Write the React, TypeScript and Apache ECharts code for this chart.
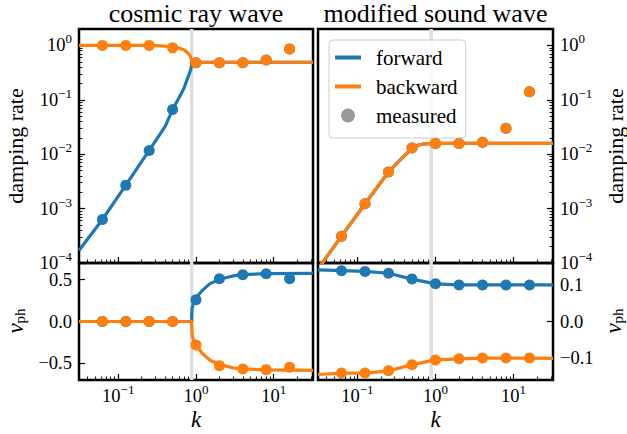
import React, { useEffect, useRef } from 'react';
import * as echarts from 'echarts';

const FONT = "'Liberation Serif', 'DejaVu Serif', serif";
const BLUE = '#1f77b4';
const ORANGE = '#ff7f0e';
const GREY = '#dedede';

// ---- axes ----
const K_MIN = 1 / 32;
const K_MAX = 32;
const K_CRIT = 0.88;
const X_TICKS = [0.1, 1, 10];
const RATE_MIN = 1e-4;
const RATE_MAX = 2;
const RATE_TICKS = [1e-4, 1e-3, 1e-2, 1e-1, 1];
const VPH_CR_MIN = -0.7;
const VPH_CR_MAX = 0.7;
const VPH_CR_TICKS = [-0.5, 0, 0.5];
const VPH_MS_MIN = -0.16;
const VPH_MS_MAX = 0.16;
const VPH_MS_TICKS = [-0.1, 0, 0.1];

// measured wavenumbers
const K_MEAS = [1 / 16, 1 / 8, 1 / 4, 1 / 2, 1, 2, 4, 8, 16];

// ---- cosmic ray wave: damping rate ----
const CR_RATE_FWD_K = [0.03125, 0.0625, 0.125, 0.25, 0.4, 0.5, 0.6, 0.7, 0.8, 0.85, 0.875, 0.88, 1, 2, 32];
const CR_RATE_FWD = [1.7e-4, 6.3e-4, 2.7e-3, 0.0117, 0.032, 0.066, 0.107, 0.163, 0.275, 0.35, 0.42, 0.49, 0.49, 0.49, 0.49];
const CR_RATE_BWD_K = [0.03125, 0.25, 0.4, 0.5, 0.6, 0.7, 0.8, 0.85, 0.875, 0.88, 1, 32];
const CR_RATE_BWD = [1.0, 1.0, 0.97, 0.93, 0.89, 0.83, 0.71, 0.62, 0.55, 0.49, 0.49, 0.49];
const CR_RATE_FWD_MEAS = [6.3e-4, 2.7e-3, 0.0117, 0.066, 0.48, 0.48, 0.48, 0.54, 0.86];
const CR_RATE_BWD_MEAS = [1.0, 1.0, 1.0, 0.9, 0.48, 0.48, 0.48, 0.54, 0.86];

// ---- cosmic ray wave: phase velocity ----
const CR_VPH_K = [0.03125, 0.88, 0.882, 0.89, 0.92, 0.96, 1, 1.2, 1.5, 2, 3, 4, 8, 32];
const CR_VPH_FWD = [0, 0, 0.08, 0.15, 0.21, 0.25, 0.28, 0.37, 0.45, 0.505, 0.545, 0.56, 0.572, 0.577];
const CR_VPH_BWD = [0, 0, -0.08, -0.15, -0.215, -0.255, -0.285, -0.38, -0.46, -0.515, -0.555, -0.568, -0.578, -0.585];
const CR_VPH_FWD_MEAS = [0, 0, 0, 0, 0.26, 0.512, 0.56, 0.572, 0.512];
const CR_VPH_BWD_MEAS = [0, 0, 0, 0, -0.28, -0.528, -0.568, -0.576, -0.548];

// ---- modified sound wave: damping rate ----
const MS_RATE_K = [0.03125, 0.0625, 0.125, 0.25, 0.35, 0.5, 0.6, 0.7, 0.85, 1, 32];
const MS_RATE_FWD = [7.8e-5, 3.1e-4, 1.23e-3, 4.7e-3, 7.8e-3, 0.0128, 0.0147, 0.0154, 0.0157, 0.0158, 0.0158];
const MS_RATE_BWD = [7.8e-5, 3.1e-4, 1.23e-3, 4.7e-3, 7.8e-3, 0.0128, 0.0147, 0.0154, 0.0157, 0.0158, 0.0158];
const MS_RATE_FWD_MEAS = [3.1e-4, 1.23e-3, 4.7e-3, 0.013, 0.0157, 0.0157, 0.0165, 0.030, 0.14];
const MS_RATE_BWD_MEAS = [3.1e-4, 1.23e-3, 4.7e-3, 0.013, 0.0157, 0.0157, 0.0165, 0.030, 0.14];

// ---- modified sound wave: phase velocity ----
const MS_VPH_K = [0.03125, 0.0625, 0.125, 0.25, 0.5, 1, 2, 4, 8, 16, 32];
const MS_VPH_FWD = [0.141, 0.139, 0.137, 0.132, 0.116, 0.103, 0.1, 0.1, 0.1, 0.1, 0.1];
const MS_VPH_BWD = [-0.145, -0.141, -0.141, -0.135, -0.118, -0.105, -0.102, -0.1, -0.1, -0.1, -0.101];
const MS_VPH_FWD_MEAS = [0.139, 0.137, 0.132, 0.116, 0.103, 0.1, 0.1, 0.1, 0.1];
const MS_VPH_BWD_MEAS = [-0.141, -0.141, -0.135, -0.118, -0.105, -0.102, -0.1, -0.1, -0.1];

const lg = (v: number) => Math.log10(v);

function minorLog(lo: number, hi: number): number[] {
  const out: number[] = [];
  for (let e = Math.floor(lg(lo)) - 1; e <= Math.ceil(lg(hi)); e++) {
    for (let m = 2; m <= 9; m++) {
      const v = m * Math.pow(10, e);
      if (v > lo * 1.0001 && v < hi * 0.9999) out.push(lg(v));
    }
  }
  return out;
}

const supLabel = (v: number) => {
  const n = Math.round(v);
  return `10{sup|${n < 0 ? '\u2212' : ''}${Math.abs(n)}}`;
};
const linLabel = (v: number) => (v < -1e-9 ? '\u2212' : '') + Math.abs(v).toFixed(1);

const RICH = {
  sup: { fontSize: 13, fontFamily: FONT, color: '#000', padding: [0, 0, 13, 0], lineHeight: 15 },
};

const GRIDS = [
  { left: 79, top: 29, width: 234, height: 234 },
  { left: 79, top: 263, width: 234, height: 117 },
  { left: 318, top: 29, width: 235, height: 234 },
  { left: 318, top: 263, width: 235, height: 117 },
];

const LINE_ICON = 'path://M0,0L26,0L26,4L0,4Z';

export default function App() {
  const ref = useRef<HTMLDivElement>(null);

  useEffect(() => {
    if (!ref.current) return;
    const chart = echarts.init(ref.current, undefined, { renderer: 'svg' });

    const panels = [
      {
        logY: true, side: 'left', showX: false,
        yMin: lg(RATE_MIN), yMax: lg(RATE_MAX),
        yMajor: RATE_TICKS.map(lg), yMinor: minorLog(RATE_MIN, RATE_MAX), yFmt: supLabel,
        fwdK: CR_RATE_FWD_K, fwd: CR_RATE_FWD, bwdK: CR_RATE_BWD_K, bwd: CR_RATE_BWD,
        fwdM: CR_RATE_FWD_MEAS, bwdM: CR_RATE_BWD_MEAS,
      },
      {
        logY: false, side: 'left', showX: true,
        yMin: VPH_CR_MIN, yMax: VPH_CR_MAX,
        yMajor: VPH_CR_TICKS, yMinor: [] as number[], yFmt: linLabel,
        fwdK: CR_VPH_K, fwd: CR_VPH_FWD, bwdK: CR_VPH_K, bwd: CR_VPH_BWD,
        fwdM: CR_VPH_FWD_MEAS, bwdM: CR_VPH_BWD_MEAS,
      },
      {
        logY: true, side: 'right', showX: false,
        yMin: lg(RATE_MIN), yMax: lg(RATE_MAX),
        yMajor: RATE_TICKS.map(lg), yMinor: minorLog(RATE_MIN, RATE_MAX), yFmt: supLabel,
        fwdK: MS_RATE_K, fwd: MS_RATE_FWD, bwdK: MS_RATE_K, bwd: MS_RATE_BWD,
        fwdM: MS_RATE_FWD_MEAS, bwdM: MS_RATE_BWD_MEAS,
      },
      {
        logY: false, side: 'right', showX: true,
        yMin: VPH_MS_MIN, yMax: VPH_MS_MAX,
        yMajor: VPH_MS_TICKS, yMinor: [] as number[], yFmt: linLabel,
        fwdK: MS_VPH_K, fwd: MS_VPH_FWD, bwdK: MS_VPH_K, bwd: MS_VPH_BWD,
        fwdM: MS_VPH_FWD_MEAS, bwdM: MS_VPH_BWD_MEAS,
      },
    ];

    const xMinor = minorLog(K_MIN, K_MAX);
    const xAxes: any[] = [];
    const yAxes: any[] = [];
    const series: any[] = [];

    panels.forEach((p, g) => {
      xAxes.push({
        type: 'value', gridIndex: g, min: lg(K_MIN), max: lg(K_MAX), position: 'bottom',
        axisLine: { show: false, onZero: false }, splitLine: { show: false },
        axisTick: { show: true, inside: true, length: 6, lineStyle: { color: '#000', width: 1.2 }, customValues: X_TICKS.map(lg) },
        axisLabel: {
          show: p.showX, customValues: X_TICKS.map(lg), formatter: supLabel, margin: 8,
          color: '#000', fontSize: 18.5, fontFamily: FONT, rich: RICH, lineHeight: 15,
        },
      });
      xAxes.push({
        type: 'value', gridIndex: g, min: lg(K_MIN), max: lg(K_MAX), position: 'bottom',
        axisLine: { show: false, onZero: false }, splitLine: { show: false },
        axisTick: { show: true, inside: true, length: 3.5, lineStyle: { color: '#000', width: 0.9 }, customValues: xMinor },
        axisLabel: { show: false },
      });
      yAxes.push({
        type: 'value', gridIndex: g, min: p.yMin, max: p.yMax, position: p.side,
        axisLine: { show: false, onZero: false }, splitLine: { show: false },
        axisTick: { show: true, inside: true, length: 6, lineStyle: { color: '#000', width: 1.2 }, customValues: p.yMajor },
        axisLabel: {
          customValues: p.yMajor, formatter: p.yFmt, margin: 7,
          color: '#000', fontSize: 18.5, fontFamily: FONT, rich: RICH, lineHeight: 15,
        },
      });
      yAxes.push({
        type: 'value', gridIndex: g, min: p.yMin, max: p.yMax, position: p.side,
        axisLine: { show: false, onZero: false }, splitLine: { show: false },
        axisTick: p.yMinor.length
          ? { show: true, inside: true, length: 3.5, lineStyle: { color: '#000', width: 0.9 }, customValues: p.yMinor }
          : { show: false },
        axisLabel: { show: false },
      });

      const ty = (v: number) => (p.logY ? lg(v) : v);
      const common = { xAxisIndex: 2 * g, yAxisIndex: 2 * g, animation: false, emphasis: { disabled: true } };
      series.push({
        ...common, type: 'line', name: '_kc', silent: true, symbol: 'none', z: 1,
        data: [[lg(K_CRIT), p.yMin], [lg(K_CRIT), p.yMax]],
        lineStyle: { color: GREY, width: 3.5 },
      });
      series.push({
        ...common, type: 'line', name: 'forward', symbol: 'none', z: 2,
        data: p.fwdK.map((k, i) => [lg(k), ty(p.fwd[i])]),
        lineStyle: { color: BLUE, width: 3.2 }, itemStyle: { color: BLUE },
      });
      series.push({
        ...common, type: 'line', name: 'backward', symbol: 'none', z: 3,
        data: p.bwdK.map((k, i) => [lg(k), ty(p.bwd[i])]),
        lineStyle: { color: ORANGE, width: 3.2 }, itemStyle: { color: ORANGE },
      });
      series.push({
        ...common, type: 'scatter', name: '_fm', symbolSize: 11, z: 4,
        data: K_MEAS.map((k, i) => [lg(k), ty(p.fwdM[i])]),
        itemStyle: { color: BLUE, opacity: 1 },
      });
      series.push({
        ...common, type: 'scatter', name: '_bm', symbolSize: 11, z: 5,
        data: K_MEAS.map((k, i) => [lg(k), ty(p.bwdM[i])]),
        itemStyle: { color: ORANGE, opacity: 1 },
      });
    });

    series.push({
      type: 'scatter', name: 'measured', xAxisIndex: 4, yAxisIndex: 4, data: [],
      itemStyle: { color: '#808080' },
    });

    const textEl = (x: number, y: number, text: string, size: number, rot = 0, extra: any = {}) => ({
      type: 'text', x, y, rotation: rot, silent: true,
      style: { text, fontSize: size, fontFamily: FONT, fill: '#000', align: 'center', verticalAlign: 'middle', ...extra },
    });
    const vphRich = {
      v: { fontSize: 23, fontStyle: 'italic', fontFamily: FONT, fill: '#000' },
      s: { fontSize: 15, fontFamily: FONT, fill: '#000', padding: [10, 0, 0, 0] },
    };

    chart.setOption({
      animation: false,
      grid: GRIDS.map((g) => ({ ...g, show: true, borderColor: '#000', borderWidth: 2.5, backgroundColor: 'transparent' })),
      xAxis: xAxes,
      yAxis: yAxes,
      series,
      legend: {
        show: true, left: 329, top: 40, orient: 'vertical', selectedMode: false,
        data: [
          { name: 'forward', icon: LINE_ICON, itemStyle: { color: BLUE } },
          { name: 'backward', icon: LINE_ICON, itemStyle: { color: ORANGE } },
          { name: 'measured', icon: 'circle', itemStyle: { color: '#808080' } },
        ],
        itemWidth: 26, itemHeight: 14, itemGap: 8,
        padding: [7, 8, 12, 6],
        borderColor: '#cccccc', borderWidth: 1, borderRadius: 4,
        backgroundColor: 'rgba(255,255,255,0.8)',
        textStyle: { fontFamily: FONT, fontSize: 21, color: '#000', lineHeight: 19, padding: [0, 0, 0, 10] },
      },
      graphic: [
        textEl(196, 13, 'cosmic ray wave', 26),
        textEl(435.5, 13, 'modified sound wave', 26),
        textEl(15, 146, 'damping rate', 22, Math.PI / 2),
        textEl(615, 146, 'damping rate', 22, Math.PI / 2),
        textEl(15, 321, '{v|v}{s|ph}', 22, Math.PI / 2, { rich: vphRich }),
        textEl(613, 321, '{v|v}{s|ph}', 22, Math.PI / 2, { rich: vphRich }),
        textEl(196, 419, 'k', 23, 0, { fontStyle: 'italic' }),
        textEl(435.5, 419, 'k', 23, 0, { fontStyle: 'italic' }),
      ],
    });

    return () => chart.dispose();
  }, []);

  return <div ref={ref} style={{ position: 'fixed', left: 0, top: 0, width: 627, height: 434, background: '#fff' }} />;
}
